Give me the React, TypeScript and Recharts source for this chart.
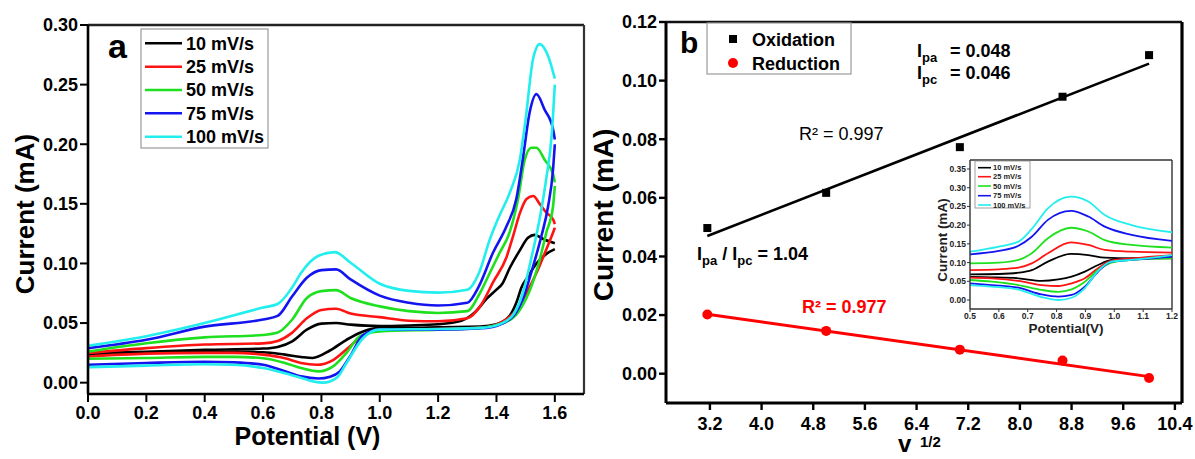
import React from 'react';
import { ComposedChart, Line, Scatter, XAxis, YAxis, ReferenceLine } from 'recharts';

const FONT = '"Liberation Sans", Arial, Helvetica, sans-serif';

// ---------- Panel a: cyclic voltammograms (potential V, current mA) ----------
const SCAN_RATES = ['10 mV/s', '25 mV/s', '50 mV/s', '75 mV/s', '100 mV/s'];
const COLORS = ['#000000', '#ff1414', '#1ee01e', '#1414f0', '#22eeee'];

const CV10_FWD: [number, number][] = [[0,0.025],[0.2,0.026],[0.4,0.0275],[0.6,0.0286],[0.65,0.030],[0.7,0.0347],[0.75,0.0445],[0.8,0.0495],[0.85,0.050],[0.9,0.0487],[1.0,0.0475],[1.1,0.048],[1.2,0.049],[1.28,0.052],[1.33,0.060],[1.365,0.070],[1.4,0.078],[1.42,0.083],[1.445,0.096],[1.48,0.111],[1.508,0.1216],[1.531,0.124],[1.56,0.1205],[1.6,0.117]];
const CV10_REV: [number, number][] = [[0,0.0235],[0.2,0.0255],[0.4,0.026],[0.5,0.026],[0.6,0.0255],[0.675,0.0235],[0.73,0.0216],[0.77,0.0207],[0.829,0.027],[0.886,0.036],[0.943,0.043],[1.0,0.046],[1.1,0.046],[1.2,0.0465],[1.344,0.047],[1.4,0.049],[1.445,0.056],[1.468,0.067],[1.486,0.080],[1.508,0.089],[1.537,0.100],[1.571,0.108],[1.6,0.112]];
const CV25_FWD: [number, number][] = [[0,0.025],[0.2,0.029],[0.4,0.032],[0.6,0.033],[0.65,0.035],[0.7,0.042],[0.75,0.054],[0.8,0.061],[0.85,0.062],[0.9,0.058],[1.0,0.055],[1.1,0.052],[1.2,0.0515],[1.3,0.054],[1.344,0.064],[1.39,0.085],[1.434,0.105],[1.457,0.123],[1.48,0.142],[1.503,0.154],[1.526,0.1566],[1.548,0.150],[1.571,0.1426],[1.594,0.137],[1.6,0.133]];
const CV25_REV: [number, number][] = [[0,0.022],[0.2,0.0244],[0.4,0.025],[0.5,0.025],[0.6,0.0235],[0.675,0.0205],[0.73,0.0165],[0.783,0.015],[0.84,0.019],[0.886,0.028],[0.932,0.0375],[1.0,0.0445],[1.2,0.045],[1.343,0.046],[1.423,0.0515],[1.468,0.061],[1.503,0.0754],[1.537,0.092],[1.571,0.112],[1.594,0.126],[1.6,0.13]];
const CV50_FWD: [number, number][] = [[0,0.026],[0.2,0.033],[0.4,0.038],[0.6,0.040],[0.65,0.042],[0.7,0.053],[0.75,0.071],[0.8,0.0768],[0.85,0.0776],[0.9,0.071],[1.0,0.064],[1.1,0.060],[1.2,0.0585],[1.3,0.060],[1.343,0.075],[1.377,0.092],[1.411,0.109],[1.445,0.126],[1.474,0.154],[1.497,0.187],[1.52,0.197],[1.537,0.197],[1.565,0.187],[1.594,0.175],[1.6,0.168]];
const CV50_REV: [number, number][] = [[0,0.020],[0.2,0.0207],[0.4,0.0216],[0.5,0.0216],[0.6,0.0205],[0.675,0.0165],[0.73,0.0123],[0.79,0.0095],[0.84,0.0137],[0.886,0.025],[0.932,0.039],[1.0,0.043],[1.2,0.0445],[1.343,0.046],[1.423,0.050],[1.48,0.061],[1.52,0.081],[1.548,0.103],[1.571,0.126],[1.594,0.148],[1.6,0.165]];
const CV75_FWD: [number, number][] = [[0,0.029],[0.2,0.036],[0.4,0.047],[0.6,0.053],[0.65,0.056],[0.7,0.0725],[0.75,0.088],[0.8,0.0944],[0.85,0.095],[0.9,0.0866],[1.0,0.073],[1.1,0.067],[1.2,0.0647],[1.3,0.067],[1.34,0.081],[1.388,0.109],[1.434,0.131],[1.468,0.154],[1.49,0.187],[1.514,0.227],[1.537,0.242],[1.565,0.229],[1.594,0.2126],[1.6,0.204]];
const CV75_REV: [number, number][] = [[0,0.015],[0.2,0.0165],[0.4,0.0175],[0.5,0.017],[0.6,0.015],[0.675,0.0095],[0.73,0.0053],[0.79,0.0035],[0.83,0.005],[0.863,0.0095],[0.898,0.022],[0.943,0.040],[1.0,0.0445],[1.2,0.0445],[1.365,0.046],[1.445,0.053],[1.49,0.070],[1.526,0.098],[1.554,0.123],[1.577,0.148],[1.594,0.179],[1.6,0.20]];
const CV100_FWD: [number, number][] = [[0,0.031],[0.2,0.039],[0.4,0.050],[0.6,0.063],[0.65,0.066],[0.7,0.080],[0.73,0.092],[0.79,0.1065],[0.846,0.1095],[0.9,0.1006],[1.0,0.083],[1.1,0.077],[1.2,0.0755],[1.3,0.078],[1.34,0.092],[1.377,0.120],[1.41,0.140],[1.445,0.159],[1.48,0.187],[1.5,0.221],[1.525,0.271],[1.548,0.284],[1.577,0.274],[1.6,0.255]];
const CV100_REV: [number, number][] = [[0,0.013],[0.2,0.0143],[0.4,0.0155],[0.5,0.015],[0.6,0.0123],[0.675,0.008],[0.732,0.004],[0.772,0.001],[0.806,0.0],[0.852,0.004],[0.886,0.0165],[0.943,0.0375],[1.0,0.0445],[1.2,0.045],[1.35,0.046],[1.42,0.050],[1.46,0.058],[1.49,0.075],[1.52,0.105],[1.55,0.14],[1.57,0.17],[1.59,0.21],[1.6,0.25]];

const CV_MAIN = [
  [CV10_FWD, CV10_REV],
  [CV25_FWD, CV25_REV],
  [CV50_FWD, CV50_REV],
  [CV75_FWD, CV75_REV],
  [CV100_FWD, CV100_REV],
];

const A_X_TICKS = [0, 0.2, 0.4, 0.6, 0.8, 1.0, 1.2, 1.4, 1.6];
const A_Y_TICKS = [0, 0.05, 0.1, 0.15, 0.2, 0.25, 0.3];
const A_X_DOMAIN: [number, number] = [0, 1.7];
const A_Y_DOMAIN: [number, number] = [-0.0095, 0.3];

// ---------- Panel b: peak current vs v^1/2 ----------
const SQRT_RATE = [3.16, 5.0, 7.07, 8.66, 10.0];
const OXIDATION = [0.0497, 0.0617, 0.0773, 0.0945, 0.1087];
const REDUCTION = [0.0202, 0.0146, 0.0082, 0.0045, -0.0015];
const OX_FIT_X = [3.16, 10.0];
const OX_FIT_Y = [0.047, 0.1058];
const RED_FIT_X = [3.16, 10.0];
const RED_FIT_Y = [0.0203, -0.001];
const B_X_TICKS = [3.2, 4.0, 4.8, 5.6, 6.4, 7.2, 8.0, 8.8, 9.6, 10.4];
const B_Y_TICKS = [0, 0.02, 0.04, 0.06, 0.08, 0.1, 0.12];
const B_X_DOMAIN: [number, number] = [2.52, 10.51];
const B_Y_DOMAIN: [number, number] = [-0.01, 0.12];

// ---------- Inset ----------
const IN10_FWD: [number, number][] = [[0.5,0.0686],[0.6,0.0695],[0.668,0.073],[0.714,0.080],[0.77,0.1025],[0.85,0.123],[0.91,0.120],[0.967,0.113],[1.06,0.111],[1.2,0.111]];
const IN10_REV: [number, number][] = [[0.5,0.0615],[0.576,0.0606],[0.668,0.058],[0.748,0.051],[0.806,0.055],[0.852,0.0624],[0.898,0.0758],[0.944,0.0936],[0.99,0.107],[1.06,0.111],[1.2,0.116]];
const IN25_FWD: [number, number][] = [[0.5,0.080],[0.6,0.082],[0.668,0.0865],[0.714,0.098],[0.77,0.125],[0.85,0.154],[0.91,0.147],[0.967,0.134],[1.06,0.129],[1.2,0.1266]];
const IN25_REV: [number, number][] = [[0.5,0.060],[0.576,0.058],[0.668,0.051],[0.748,0.040],[0.806,0.0374],[0.852,0.0446],[0.898,0.058],[0.944,0.085],[0.99,0.105],[1.06,0.111],[1.2,0.120]];
const IN50_FWD: [number, number][] = [[0.5,0.098],[0.6,0.100],[0.668,0.107],[0.714,0.125],[0.77,0.165],[0.85,0.193],[0.91,0.183],[0.967,0.160],[1.06,0.147],[1.2,0.140]];
const IN50_REV: [number, number][] = [[0.5,0.0535],[0.576,0.049],[0.668,0.040],[0.748,0.027],[0.806,0.022],[0.852,0.0285],[0.898,0.049],[0.944,0.080],[0.99,0.100],[1.06,0.107],[1.2,0.111]];
const IN75_FWD: [number, number][] = [[0.5,0.122],[0.6,0.131],[0.668,0.145],[0.714,0.169],[0.77,0.214],[0.85,0.238],[0.91,0.223],[0.967,0.196],[1.06,0.174],[1.2,0.158]];
const IN75_REV: [number, number][] = [[0.5,0.0446],[0.576,0.040],[0.668,0.033],[0.748,0.015],[0.806,0.009],[0.852,0.0134],[0.898,0.0357],[0.944,0.076],[0.99,0.1025],[1.06,0.107],[1.2,0.116]];
const IN100_FWD: [number, number][] = [[0.5,0.129],[0.6,0.1426],[0.668,0.156],[0.714,0.19],[0.77,0.245],[0.85,0.276],[0.91,0.263],[0.967,0.227],[1.06,0.20],[1.2,0.181]];
const IN100_REV: [number, number][] = [[0.5,0.040],[0.576,0.036],[0.668,0.028],[0.748,0.008],[0.806,0.0],[0.852,0.006],[0.898,0.032],[0.944,0.078],[0.99,0.1025],[1.06,0.107],[1.2,0.120]];

const CV_INSET = [
  [IN10_FWD, IN10_REV],
  [IN25_FWD, IN25_REV],
  [IN50_FWD, IN50_REV],
  [IN75_FWD, IN75_REV],
  [IN100_FWD, IN100_REV],
];
const IN_X_TICKS = [0.5, 0.6, 0.7, 0.8, 0.9, 1.0, 1.1, 1.2];
const IN_Y_TICKS = [0, 0.05, 0.1, 0.15, 0.2, 0.25, 0.3, 0.35];
const IN_X_DOMAIN: [number, number] = [0.5, 1.2];
const IN_Y_DOMAIN: [number, number] = [-0.024, 0.374];

const toPts = (arr: [number, number][]) => arr.map(([x, y]) => ({ x, y }));
const zipPts = (xs: number[], ys: number[]) => xs.map((x, k) => ({ x, y: ys[k] }));

const SquareShape = (p: any) => <rect x={p.cx - 4} y={p.cy - 4} width={8} height={8} fill="#000" />;
const CircleShape = (p: any) => <circle cx={p.cx} cy={p.cy} r={5} fill="#ff0000" />;

const bigTick = { fill: '#000', fontSize: 18, fontWeight: 700, fontFamily: FONT };

function PanelA() {
  return (
    <ComposedChart width={600} height={459} margin={{ top: 25, right: 16, bottom: 0, left: 0 }}>
      <XAxis type="number" dataKey="x" domain={A_X_DOMAIN} ticks={A_X_TICKS} allowDataOverflow
        height={65} tick={bigTick} tickFormatter={(v: number) => v.toFixed(1)}
        axisLine={{ stroke: '#000', strokeWidth: 2.6 }} tickLine={{ stroke: '#000', strokeWidth: 2 }}
        tickSize={8} tickMargin={4} />
      <YAxis type="number" dataKey="y" domain={A_Y_DOMAIN} ticks={A_Y_TICKS} allowDataOverflow
        width={88} tick={bigTick} tickFormatter={(v: number) => v.toFixed(2)}
        axisLine={{ stroke: '#000', strokeWidth: 2.6 }} tickLine={{ stroke: '#000', strokeWidth: 2 }}
        tickSize={8} tickMargin={2} />
      <ReferenceLine y={A_Y_DOMAIN[1]} stroke="#222" strokeWidth={2.4} />
      <ReferenceLine x={A_X_DOMAIN[1]} stroke="#333" strokeWidth={2.2} />
      {CV_MAIN.map((pair, s) =>
        pair.map((branch, b) => (
          <Line key={`a${s}-${b}`} data={toPts(branch)} dataKey="y" type="monotone"
            stroke={COLORS[s]} strokeWidth={2.6} dot={false} isAnimationActive={false} />
        ))
      )}
    </ComposedChart>
  );
}

function PanelB() {
  return (
    <ComposedChart width={595} height={459} margin={{ top: 22, right: 13, bottom: 0, left: 0 }}>
      <XAxis type="number" dataKey="x" domain={B_X_DOMAIN} ticks={B_X_TICKS} allowDataOverflow
        height={56} tick={bigTick} tickFormatter={(v: number) => v.toFixed(1)}
        axisLine={{ stroke: '#000', strokeWidth: 3 }} tickLine={{ stroke: '#000', strokeWidth: 2.4 }}
        tickSize={7} tickMargin={7} />
      <YAxis type="number" dataKey="y" domain={B_Y_DOMAIN} ticks={B_Y_TICKS} allowDataOverflow
        width={66} tick={bigTick} tickFormatter={(v: number) => v.toFixed(2)}
        axisLine={{ stroke: '#000', strokeWidth: 3 }} tickLine={{ stroke: '#000', strokeWidth: 2.4 }}
        tickSize={7} tickMargin={2} />
      <ReferenceLine y={B_Y_DOMAIN[1]} stroke="#111" strokeWidth={2.4} />
      <ReferenceLine x={B_X_DOMAIN[1]} stroke="#000" strokeWidth={3.2} />
      <Line data={zipPts(OX_FIT_X, OX_FIT_Y)} dataKey="y" type="linear" stroke="#000" strokeWidth={2.6}
        dot={false} isAnimationActive={false} />
      <Line data={zipPts(RED_FIT_X, RED_FIT_Y)} dataKey="y" type="linear" stroke="#ff0000" strokeWidth={3}
        dot={false} isAnimationActive={false} />
      <Scatter data={zipPts(SQRT_RATE, OXIDATION)} dataKey="y" shape={SquareShape} isAnimationActive={false} />
      <Scatter data={zipPts(SQRT_RATE, REDUCTION)} dataKey="y" shape={CircleShape} isAnimationActive={false} />
    </ComposedChart>
  );
}

const smallTick = { fill: '#222', fontSize: 8.5, fontWeight: 700, fontFamily: FONT };

function Inset() {
  return (
    <ComposedChart width={260} height={190} margin={{ top: 10, right: 13, bottom: 0, left: 0 }}>
      <XAxis type="number" dataKey="x" domain={IN_X_DOMAIN} ticks={IN_X_TICKS} allowDataOverflow
        height={31} tick={smallTick} tickFormatter={(v: number) => v.toFixed(1)}
        axisLine={{ stroke: '#333', strokeWidth: 1.4 }} tickLine={{ stroke: '#333', strokeWidth: 1 }}
        tickSize={3} tickMargin={1} />
      <YAxis type="number" dataKey="y" domain={IN_Y_DOMAIN} ticks={IN_Y_TICKS} allowDataOverflow
        width={45} tick={smallTick} tickFormatter={(v: number) => v.toFixed(2)}
        axisLine={{ stroke: '#333', strokeWidth: 1.4 }} tickLine={{ stroke: '#333', strokeWidth: 1 }}
        tickSize={3} tickMargin={1} />
      <ReferenceLine y={IN_Y_DOMAIN[1]} stroke="#333" strokeWidth={1.4} />
      <ReferenceLine x={IN_X_DOMAIN[1]} stroke="#333" strokeWidth={1.4} />
      {CV_INSET.map((pair, s) =>
        pair.map((branch, b) => (
          <Line key={`i${s}-${b}`} data={toPts(branch)} dataKey="y" type="monotone"
            stroke={COLORS[s]} strokeWidth={1.8} dot={false} isAnimationActive={false} />
        ))
      )}
    </ComposedChart>
  );
}

function Overlay() {
  const rowsA = [43.3, 66.7, 90, 113.3, 136.7];
  const rowsIn = [167.7, 176.7, 186, 195.7, 205];
  const bold = { fontFamily: FONT, fontWeight: 700, fill: '#000' } as const;
  return (
    <svg width={1195} height={459} style={{ position: 'absolute', left: 0, top: 0, pointerEvents: 'none' }}>
      {/* Panel a */}
      <text x={108} y={58} fontSize={34} {...bold}>a</text>
      <rect x={141} y={29} width={127} height={119} fill="#fff" stroke="#9a9a9a" strokeWidth={1.2} />
      {SCAN_RATES.map((lab, k) => (
        <g key={`la${k}`}>
          <line x1={145} x2={182} y1={rowsA[k]} y2={rowsA[k]} stroke={COLORS[k]} strokeWidth={2.6} />
          <text x={186} y={rowsA[k] + 6.4} fontSize={18} {...bold}>{lab}</text>
        </g>
      ))}
      <text x={34} y={214} fontSize={26} textAnchor="middle" transform="rotate(-90 34 214)" {...bold}>Current (mA)</text>
      <text x={307.5} y={445} fontSize={25} textAnchor="middle" {...bold}>Potential (V)</text>

      {/* Panel b */}
      <text x={680} y={53} fontSize={30} {...bold}>b</text>
      <rect x={707} y={23} width={144} height={51} fill="#fff" stroke="#9a9a9a" strokeWidth={1.2} />
      <rect x={729} y={35} width={8} height={8} fill="#000" />
      <circle cx={733} cy={63} r={5} fill="#ff0000" />
      <text x={752} y={45.5} fontSize={18} {...bold}>Oxidation</text>
      <text x={752} y={69.5} fontSize={18} {...bold}>Reduction</text>
      <text x={799} y={140} fontSize={18} fontFamily={FONT} fill="#000">R² = 0.997</text>
      <text x={917} y={57} fontSize={18} {...bold}>I<tspan fontSize={13} dy={5}>pa</tspan><tspan x={950} dy={-5}>= 0.048</tspan></text>
      <text x={917} y={79} fontSize={18} {...bold}>I<tspan fontSize={13} dy={5}>pc</tspan><tspan x={950} dy={-5}>= 0.046</tspan></text>
      <text x={697} y={260} fontSize={18} {...bold}>I<tspan fontSize={13} dy={5}>pa</tspan><tspan dy={-5}> / I</tspan><tspan fontSize={13} dy={5}>pc</tspan><tspan dy={-5}> = 1.04</tspan></text>
      <text x={802} y={313} fontSize={18} fontFamily={FONT} fontWeight={700} fill="#ff0000">R² = 0.977</text>
      <text x={613} y={215} fontSize={28} textAnchor="middle" transform="rotate(-90 613 215)" {...bold}>Current (mA)</text>
      <text x={898} y={452} fontSize={24} {...bold}>v</text>
      <text x={920} y={447} fontSize={15} {...bold}>1/2</text>

      {/* Inset */}
      <rect x={975} y={161} width={55} height={47} fill="#fff" stroke="#888" strokeWidth={0.8} />
      {SCAN_RATES.map((lab, k) => (
        <g key={`li${k}`}>
          <line x1={978} x2={991} y1={rowsIn[k]} y2={rowsIn[k]} stroke={COLORS[k]} strokeWidth={1.6} />
          <text x={993} y={rowsIn[k] + 2.7} fontSize={7.5} {...bold} fill="#222">{lab}</text>
        </g>
      ))}
      <text x={947} y={240} fontSize={13.5} textAnchor="middle" transform="rotate(-90 947 240)" {...bold} fill="#222">Current (mA)</text>
      <text x={1066} y={333} fontSize={13.5} textAnchor="middle" {...bold} fill="#222">Potential(V)</text>
    </svg>
  );
}

export default function App() {
  return (
    <div style={{ position: 'absolute', left: 0, top: 0, width: 1195, height: 459, background: '#fff', overflow: 'hidden' }}>
      <div style={{ position: 'absolute', left: 0, top: 0 }}><PanelA /></div>
      <div style={{ position: 'absolute', left: 600, top: 0 }}><PanelB /></div>
      <div style={{ position: 'absolute', left: 925, top: 150 }}><Inset /></div>
      <Overlay />
    </div>
  );
}
